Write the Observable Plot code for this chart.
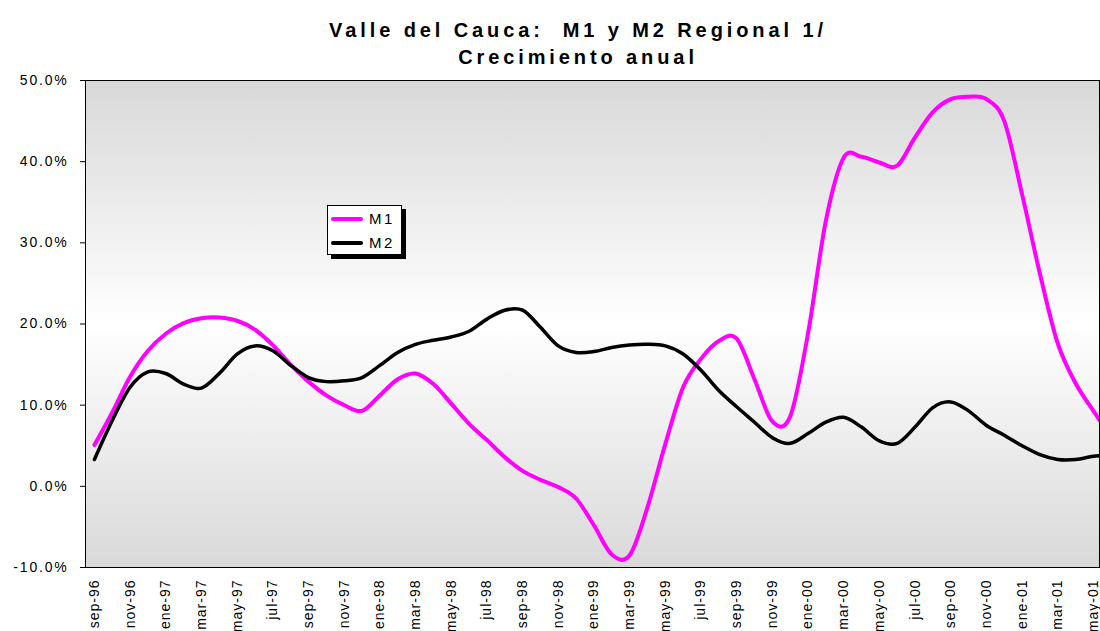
<!DOCTYPE html>
<html>
<head>
<meta charset="utf-8">
<script src="https://cdn.jsdelivr.net/npm/d3@7"></script>
<script src="https://cdn.jsdelivr.net/npm/@observablehq/plot@0.6"></script>
<style>
  html, body { margin: 0; padding: 0; background: #fff; overflow: hidden; }
  #wrap { position: relative; width: 1100px; height: 631px; font-family: "Liberation Sans", Arial, sans-serif; }
  #title { position: absolute; left: 78px; top: 17px; width: 1000px; text-align: center;
           font-weight: bold; font-size: 20px; line-height: 27px; letter-spacing: 3.9px; color: #000; }
  #chart { position: absolute; left: 0; top: 70px; }
  #legend { position: absolute; left: 327px; top: 205px; width: 75px; height: 50px; background: #fff;
            border: 1px solid #000; box-shadow: 4px 4px 0 #000; box-sizing: border-box; }
  .entry { position: absolute; left: 3px; height: 20px; width: 72px; }
  .swatch { position: absolute; left: 0; top: 8px; width: 32px; height: 4px; border-radius: 2px; }
  .lab { position: absolute; left: 38px; top: 0; font-size: 15px; line-height: 20px; letter-spacing: 2.5px; }
  g[aria-label="y-axis tick label"] text, g[aria-label="y-axis"] text { letter-spacing: 1.8px; }
  g[aria-label="x-axis tick label"] text, g[aria-label="x-axis"] text { letter-spacing: 1px; }
</style>
</head>
<body>
<div id="wrap">
  <div id="title">Valle del Cauca:&nbsp; M1 y M2 Regional 1/<br>Crecimiento anual</div>
  <div id="chart"></div>
  <div id="legend">
    <div class="entry" style="top:3px"><div class="swatch" style="background:#ff00ff"></div><div class="lab">M1</div></div>
    <div class="entry" style="top:27px"><div class="swatch" style="background:#000"></div><div class="lab">M2</div></div>
  </div>
</div>
<script>
// Monthly categories (sep-96 ... jun-01; the last one lies past the visible edge)
const months = [
  "sep-96","oct-96","nov-96","dic-96","ene-97","feb-97","mar-97","abr-97","may-97","jun-97","jul-97","ago-97",
  "sep-97","oct-97","nov-97","dic-97","ene-98","feb-98","mar-98","abr-98","may-98","jun-98","jul-98","ago-98",
  "sep-98","oct-98","nov-98","dic-98","ene-99","feb-99","mar-99","abr-99","may-99","jun-99","jul-99","ago-99",
  "sep-99","oct-99","nov-99","dic-99","ene-00","feb-00","mar-00","abr-00","may-00","jun-00","jul-00","ago-00",
  "sep-00","oct-00","nov-00","dic-00","ene-01","feb-01","mar-01","abr-01","may-01","jun-01"
];

// Tick labels shown on the x axis (every other month)
const tickLabels = [
  "sep-96","nov-96","ene-97","mar-97","may-97","jul-97","sep-97","nov-97","ene-98","mar-98",
  "may-98","jul-98","sep-98","nov-98","ene-99","mar-99","may-99","jul-99","sep-99","nov-99",
  "ene-00","mar-00","may-00","jul-00","sep-00","nov-00","ene-01","mar-01","may-01"
];

// Annual growth, %
const m1 = [
  5.1, 9.1, 13.5, 16.7, 18.8, 20.1, 20.7, 20.8, 20.4, 19.3, 17.4, 15.0,
  12.9, 11.2, 10.0, 9.3, 11.2, 13.2, 13.9, 12.6, 10.2, 7.7, 5.7, 3.6,
  1.9, 0.8, -0.1, -1.5, -4.8, -8.4, -8.5, -2.6, 5.2, 12.2, 15.7, 17.9,
  18.2, 13.2, 8.0, 8.6, 18.8, 32.7, 40.5, 40.6, 39.9, 39.5, 43.0, 46.1,
  47.7, 48.0, 47.7, 45.0, 36.0, 26.2, 17.6, 12.7, 9.3, 6.0
];
const m2 = [
  3.3, 8.1, 12.2, 14.1, 13.9, 12.6, 12.1, 13.9, 16.3, 17.3, 16.7, 14.9,
  13.4, 12.9, 13.0, 13.4, 14.9, 16.5, 17.5, 18.0, 18.4, 19.1, 20.6, 21.7,
  21.7, 19.6, 17.3, 16.5, 16.6, 17.1, 17.4, 17.5, 17.3, 16.3, 14.3, 11.8,
  9.8, 7.9, 6.0, 5.3, 6.5, 7.9, 8.5, 7.3, 5.6, 5.3, 7.3, 9.7,
  10.4, 9.3, 7.5, 6.3, 5.0, 3.9, 3.3, 3.3, 3.7, 3.9
];
const yTicks = [-10, 0, 10, 20, 30, 40, 50];

const rows = [];
months.forEach((m, i) => {
  rows.push({i, month: m, serie: "M1", v: m1[i]});
  rows.push({i, month: m, serie: "M2", v: m2[i]});
});
const tickIdx = tickLabels.map(l => months.indexOf(l));

function background(index, scales, values, dims) {
  const g = d3.create("svg:g");
  const grad = g.append("defs").append("linearGradient")
    .attr("id", "bgGrad").attr("x1", 0).attr("y1", 0).attr("x2", 0).attr("y2", 1);
  grad.append("stop").attr("offset", "0%").attr("stop-color", "#d8d8d8");
  grad.append("stop").attr("offset", "50%").attr("stop-color", "#ffffff");
  grad.append("stop").attr("offset", "100%").attr("stop-color", "#d9d9d9");
  g.append("rect")
    .attr("x", dims.marginLeft).attr("y", dims.marginTop)
    .attr("width", dims.width - dims.marginLeft - dims.marginRight)
    .attr("height", dims.height - dims.marginTop - dims.marginBottom)
    .attr("fill", "url(#bgGrad)");
  return g.node();
}

const chart = Plot.plot({
  width: 1100,
  height: 561,
  marginLeft: 85,
  marginRight: 1,
  marginTop: 10,
  marginBottom: 64,
  style: {fontFamily: "'Liberation Sans', Arial, sans-serif", fontSize: "14px", background: "transparent", color: "#000"},
  x: {
    type: "linear",
    domain: [-0.5, 56.34],
    ticks: tickIdx,
    tickFormat: i => months[i],
    tickRotate: -90,
    tickSize: 0,
    tickPadding: 12,
    label: null
  },
  y: {
    domain: [-10, 50],
    ticks: yTicks,
    tickFormat: d => d.toFixed(1) + "%",
    tickSize: 5,
    tickPadding: 12,
    label: null
  },
  color: {domain: ["M1", "M2"], range: ["#ff00ff", "#000000"]},
  marks: [
    background,
    Plot.line(rows, {x: "i", y: "v", z: "serie", stroke: "serie",
      strokeWidth: d => d.serie === "M1" ? 4 : 3.5,
      curve: "cardinal", tension: 0, clip: true}),
    Plot.frame({stroke: "#000", strokeWidth: 1})
  ]
});
document.getElementById("chart").appendChild(chart);
</script>
</body>
</html>
